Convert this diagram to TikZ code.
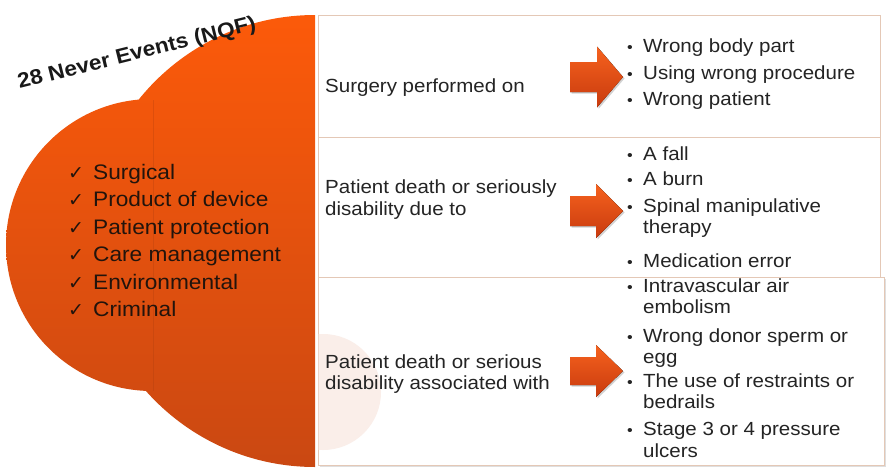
\documentclass[tikz,border=0pt]{standalone}
\usepackage{fontspec}
\setmainfont{Liberation Sans}[FakeStretch=1.08]
\newfontfamily\symfont{DejaVu Sans}
\usetikzlibrary{shadows}

\definecolor{orTop}{RGB}{252,90,10}
\definecolor{orBot}{RGB}{202,72,18}
\definecolor{arTop}{RGB}{246,98,30}
\definecolor{arBot}{RGB}{200,58,14}
\definecolor{boxline}{RGB}{228,200,182}
\definecolor{txt}{RGB}{36,36,36}
\definecolor{chktxt}{RGB}{34,20,12}
\definecolor{blush}{RGB}{250,238,233}

% block arrow: centre y, shaft half height, head half height, head base x
\newcommand\blockarrow[4]{%
  \fill[arrowbody] (570,#1-#2) -- (#4,#1-#2) -- (#4,#1-#3) -- (623,#1)
    -- (#4,#1+#3) -- (#4,#1+#2) -- (570,#1+#2) -- cycle;}
% bullet item and continuation line of the right-hand lists
\newcommand\bitem[3]{%
  \node[bul] (#1d) at (630,#2) {•};
  \node[rt] (#1) at (643,#2) {#3};}
\newcommand\bcont[3]{\node[rt] (#1) at (643,#2) {#3};}
% checked entry of the left list
\newcommand\citem[3]{%
  \node[chk] (#1c) at (76,#2) {✓};
  \node[ct] (#1) at (93,#2) {#3};}

\begin{document}
\begin{tikzpicture}[x=1pt,y=-1pt,
  box/.style={draw=boxline, line width=0.8pt, fill=white, inner sep=0pt,
    anchor=north west},
  rt/.style={anchor=base west, inner sep=0pt, text=txt,
    font=\fontsize{19}{22}\selectfont},
  bul/.style={anchor=base, inner sep=0pt, text=txt,
    font=\fontsize{15}{18}\selectfont},
  ct/.style={anchor=base west, inner sep=0pt, text=chktxt,
    font=\fontsize{21}{25}\selectfont},
  chk/.style={anchor=base, inner sep=0pt, text=chktxt,
    font=\symfont\fontsize{19}{22}\selectfont},
  arrowbody/.style={top color=arTop, bottom color=arBot,
    drop shadow={shadow xshift=1.5pt, shadow yshift=-1.5pt, opacity=0.35}},
  title/.style={inner sep=0pt, text=black!90,
    font=\bfseries\fontsize{21}{25}\selectfont}]
\useasboundingbox (0,0) rectangle (887,472);

% orange backdrop: union of two discs cut off by a vertical edge
\begin{scope}
  \clip (0,0) rectangle (315,472);
  \shade[top color=orTop, bottom color=orBot]
    (315,241) circle[radius=226pt] (152,245) circle[radius=146pt];
\end{scope}
\draw[orBot!80!black, opacity=0.25, line width=0.6pt] (153,100) -- (153,391);

% three category boxes
\node[box, minimum width=562, minimum height=122] (b1) at (318,15) {};
\node[box, minimum width=562, minimum height=140] (b2) at (318,137) {};
\node[box, minimum width=566, minimum height=188,
  drop shadow={shadow xshift=1.5pt, shadow yshift=-2pt, opacity=0.25}]
  (b3) at (318,277) {};
\begin{scope}
  \clip ([xshift=0.5pt,yshift=0.5pt]b3.south west)
    rectangle ([xshift=-0.5pt,yshift=-0.5pt]b3.north east);
  \fill[blush] (323,392) circle[radius=58pt];
\end{scope}

% title
\node[title, rotate=14] (title) at (137,54) {28 Never Events (NQF)};

% checklist
\citem{c1}{179}{Surgical}
\citem{c2}{206.5}{Product of device}
\citem{c3}{234}{Patient protection}
\citem{c4}{261.5}{Care management}
\citem{c5}{289}{Environmental}
\citem{c6}{316.5}{Criminal}

% box 1
\node[rt] (l1) at (325,92) {Surgery performed on};
\blockarrow{77}{15}{30.5}{597}
\bitem{p1}{52}{Wrong body part}
\bitem{p2}{79}{Using wrong procedure}
\bitem{p3}{105}{Wrong patient}

% box 2
\node[rt] (l2a) at (325,193) {Patient death or seriously};
\node[rt] (l2b) at (325,215) {disability due to};
\blockarrow{211}{15}{27}{596}
\bitem{q1}{160}{A fall}
\bitem{q2}{185}{A burn}
\bitem{q3}{212}{Spinal manipulative}
\bcont{q3b}{233}{therapy}
\bitem{q4}{267}{Medication error}

% box 3
\node[rt] (l3a) at (325,368) {Patient death or serious};
\node[rt] (l3b) at (325,389) {disability associated with};
\blockarrow{371}{14}{26}{596}
\bitem{r1}{292}{Intravascular air}
\bcont{r1b}{313}{embolism}
\bitem{r2}{342}{Wrong donor sperm or}
\bcont{r2b}{363}{egg}
\bitem{r3}{387}{The use of restraints or}
\bcont{r3b}{408}{bedrails}
\bitem{r4}{435}{Stage 3 or 4 pressure}
\bcont{r4b}{457}{ulcers}
\end{tikzpicture}
\end{document}
